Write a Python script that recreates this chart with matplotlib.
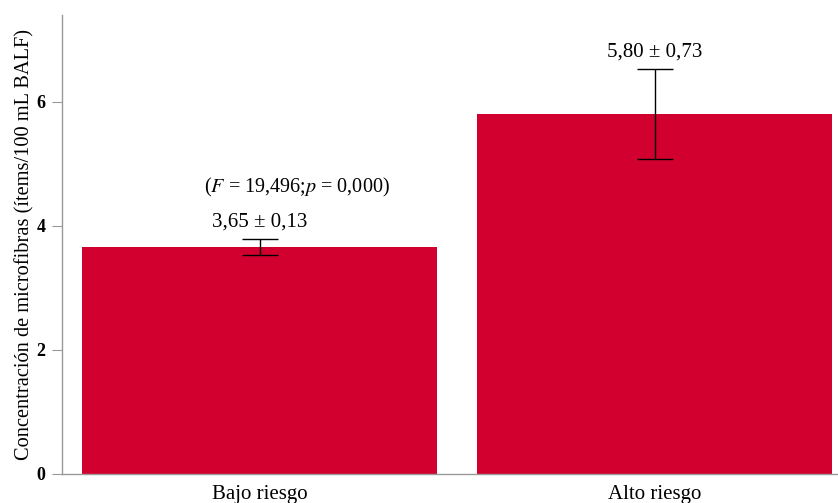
import matplotlib.pyplot as plt
import numpy as np

# Group means and standard errors
grupos = ['Bajo riesgo', 'Alto riesgo']
medias = [3.65, 5.80]
errores = [0.13, 0.73]
etiquetas = ['3,65 ± 0,13', '5,80 ± 0,73']
yticks = [0, 2, 4, 6]

plt.rcParams['font.family'] = ['Liberation Serif', 'DejaVu Serif']

fig = plt.figure(figsize=(8.38, 5.03), dpi=100)
ax = fig.add_axes([62 / 838, 29.5 / 503, 790 / 838, 458.5 / 503])

x = np.arange(len(grupos))
ax.bar(x, medias, width=0.9, color='#D2002F', zorder=2)
ax.errorbar(x, medias, yerr=errores, fmt='none', ecolor='black',
            elinewidth=1.0, capsize=13, capthick=1.0, zorder=3)

# value labels above the error bars
for xi, m, e, t in zip(x, medias, errores, etiquetas):
    ax.text(xi, m + e + 0.12, t, ha='center', va='bottom', fontsize=15)

ax.text(0.095, 4.62, r'($F$ = 19,496;$p$ = 0,000)', ha='center', va='center',
        fontsize=14.5, math_fontfamily='stix')

ax.set_xlim(-0.5, 1.5)
ax.set_ylim(0, 7.4)
ax.set_xticks(x)
ax.set_xticklabels(grupos, fontsize=15)
ax.tick_params(axis='x', length=0, pad=8)
ax.set_yticks(yticks)
ax.set_yticklabels([str(v) for v in yticks], fontsize=13, fontweight='bold')
ax.tick_params(axis='y', length=7, color='#999999', pad=5)
ax.set_ylabel('Concentración de microfibras (ítems/100 mL BALF)', fontsize=14.7,
              labelpad=1.5)

for s in ['top', 'right']:
    ax.spines[s].set_visible(False)
for s in ['left', 'bottom']:
    ax.spines[s].set_color('#999999')
    ax.spines[s].set_linewidth(1.0)

fig.savefig('out.png', dpi=100)
